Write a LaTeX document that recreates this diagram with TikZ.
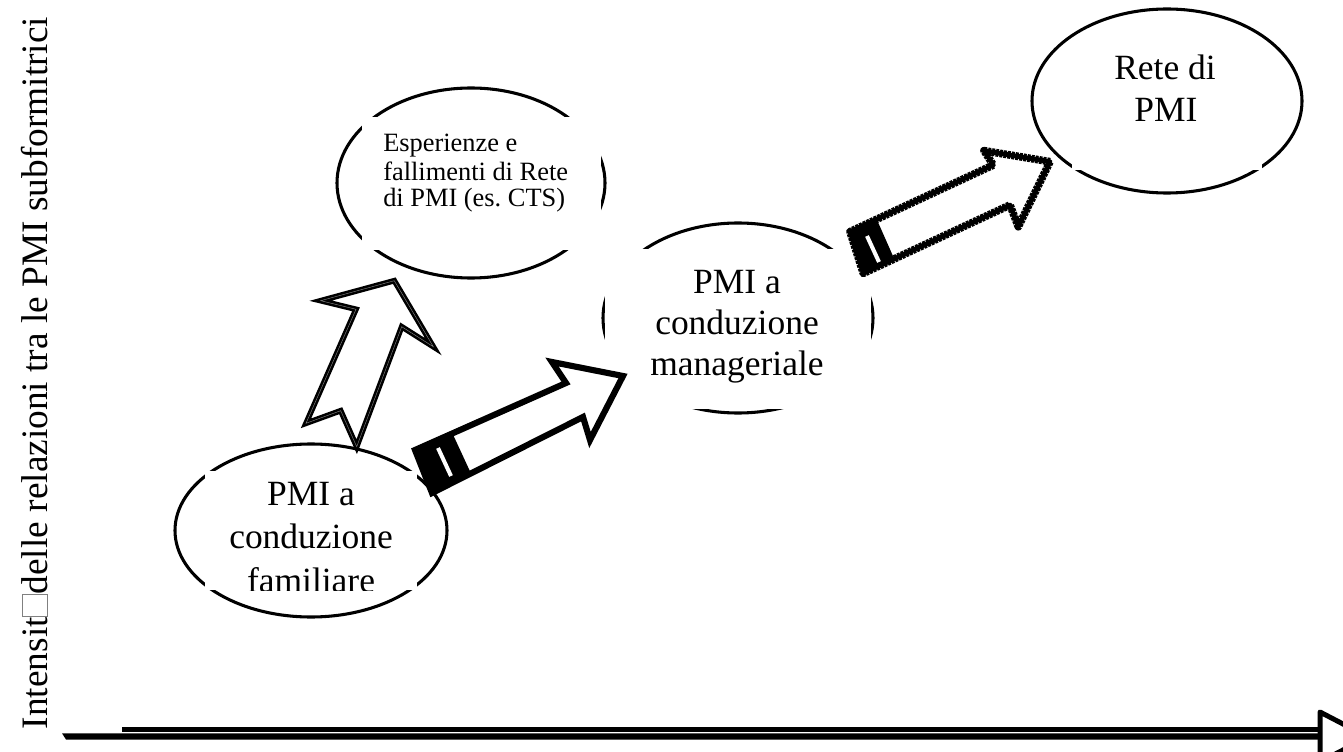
\documentclass[tikz,border=0pt]{standalone}
\usepackage{fontspec}
\setmainfont{Liberation Serif}
\usetikzlibrary{shapes.geometric}
\begin{document}
\begin{tikzpicture}[x=0.75pt,y=-0.75pt,
  oval/.style={ellipse, draw, line width=2.3pt, inner sep=0pt},
  textbox/.style={fill=white},
  big/.style={font=\fontsize{26.6}{31}\selectfont, inner sep=0pt, anchor=base},
  small/.style={font=\fontsize{19.8}{22}\selectfont, inner sep=0pt, anchor=base west},
  arrowA/.style={draw, fill=white, line width=1.95pt, double=black!45, double distance=0.3pt, line join=miter},
  arrowB/.style={draw, fill=white, line width=4.6pt, line join=miter},
  arrowCcore/.style={draw, fill=white, line width=3.6pt, line join=round},
  arrowCbead/.style={draw, line width=5.8pt, dash pattern=on 2.2pt off 0.8pt, line join=round},
  stripe/.style={draw=white, line width=3pt},
  axisline/.style={fill=black},
  axishead/.style={draw, fill=white, line width=3.75pt, line join=round}
]
\useasboundingbox (0,0) rectangle (1343,752);

% ellipses
\node[oval, minimum width=204pt, minimum height=129.75pt] (fam) at (311,530.5) {};
\node[oval, minimum width=201pt, minimum height=142.5pt] (esp) at (471,183) {};
\node[oval, minimum width=202.5pt, minimum height=142.5pt] (man) at (738,318) {};
\node[oval, minimum width=202.5pt, minimum height=138pt] (rete) at (1167,101) {};

% white text boxes covering parts of the outlines
\fill[textbox] (205,471) rectangle (417,590);
\fill[textbox] (362,117) rectangle (601,250);
\fill[textbox] (605,249) rectangle (871,409);
\fill[textbox] (1072,38) rectangle (1262,170);

% texts
\node[big] (famA) at (311,505) {PMI a};
\node[big] (famB) at (311,548) {conduzione};
\begin{scope}
  \clip (205,471) rectangle (417,590);
  \node[big] (famC) at (311,592) {familiare};
\end{scope}

\node[small] (espA) at (383,152) {Esperienze e};
\node[small] (espB) at (383,181) {fallimenti di Rete};
\node[small] (espC) at (383,207) {di PMI (es.\ CTS)};

\node[big] (manA) at (737,294) {PMI a};
\node[big] (manB) at (737,335) {conduzione};
\node[big] (manC) at (737,376) {manageriale};

\node[big] (reteA) at (1165,80) {Rete di};
\node[big] (reteB) at (1166,122) {PMI};

% y axis label
\node[rotate=90, anchor=base, inner sep=0pt, font=\fontsize{28}{32}\selectfont] (ylab) at (47,373)
  {Intensit{\fboxsep=0pt\fboxrule=0.6pt\textcolor{gray}{\fbox{\rule{0pt}{18pt}\hspace{16pt}}}}delle relazioni tra le PMI subformitrici};

% block arrow A (fam -> esp)
\draw[arrowA] (394.3,280.7) -- (433.3,346.7) -- (401.7,326.7) -- (356.7,446.7)
  -- (340.7,410.7) -- (306,423.3) -- (356,309.3) -- (320.7,300.7) -- cycle;

% block arrow B (fam -> man)
\draw[arrowB] (623,376) -- (552,362) -- (566,383) -- (415,450) -- (432,493)
  -- (583,417) -- (590,440) -- cycle;
\fill (415,450) -- (452.5,433.5) -- (471,473.5) -- (432,493) -- cycle;
\draw[stripe] (438,448) -- (451,476);

% block arrow C (man -> rete)
\draw[arrowCcore] (1050,161.7) -- (984,150.7) -- (993.3,165) -- (850,231.7) -- (863.3,273.3)
  -- (1010,205) -- (1018.3,226.7) -- cycle;
\draw[arrowCbead] (1050,161.7) -- (984,150.7) -- (993.3,165) -- (850,231.7) -- (863.3,273.3)
  -- (1010,205) -- (1018.3,226.7) -- cycle;
\fill (850,231.7) -- (876.6,219) -- (894.5,259.5) -- (863.3,273.3) -- cycle;
\draw[stripe] (867,236) -- (879,262);

% horizontal axis
\coordinate (axL) at (62,736);
\coordinate (axR) at (1320,736);
\fill[axisline] (122,727) rectangle (1320,732.3);
\fill[axisline] (62,733.3) -- (1320,733.3) -- (1320,739.5) -- (66,739.5) -- cycle;
\draw[axishead] (1320,712) -- (1368,737) -- (1320,762) -- cycle;
\end{tikzpicture}
\end{document}
